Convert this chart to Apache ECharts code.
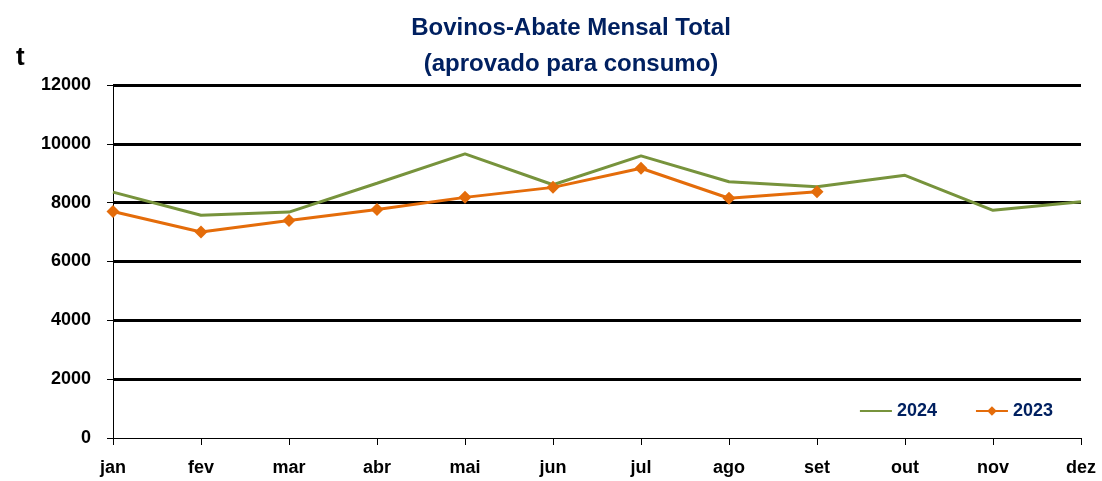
<!DOCTYPE html>
<html>
<head>
<meta charset="utf-8">
<script src="https://cdn.jsdelivr.net/npm/echarts@6/dist/echarts.min.js"></script>
<style>
  html, body { margin: 0; padding: 0; background: #fff; }
  #main { width: 1102px; height: 481px; }
</style>
</head>
<body>
<div id="main"></div>
<script>
// dados
var meses = ["jan", "fev", "mar", "abr", "mai", "jun", "jul", "ago", "set", "out", "nov", "dez"];
var valores2024 = [8360, 7570, 7680, 8660, 9660, 8610, 9590, 8710, 8540, 8930, 7740, 8030];
var valores2023 = [7700, 7000, 7390, 7770, 8180, 8520, 9170, 8150, 8370];

var fonte = "'Liberation Sans', Arial, sans-serif";
var azul = "#002060";

var myChart = echarts.init(document.getElementById("main"));
var option = {
  animation: false,
  title: [
    {
      text: "Bovinos-Abate Mensal Total\n(aprovado para consumo)",
      left: 566,
      textAlign: "center",
      top: 5,
      textStyle: {
        color: azul,
        fontFamily: fonte,
        fontWeight: "bold",
        fontSize: 24,
        lineHeight: 36,
      },
    },
    {
      text: "t",
      left: 11,
      top: 40,
      textStyle: {
        color: "#000",
        fontFamily: fonte,
        fontWeight: "bold",
        fontSize: 26,
      },
    },
  ],
  legend: {
    right: 44,
    top: 397,
    itemGap: 38,
    itemWidth: 32,
    itemHeight: 12,
    textStyle: {
      color: azul,
      fontFamily: fonte,
      fontWeight: "bold",
      fontSize: 18,
    },
    data: [
      { name: "2024", itemStyle: { opacity: 0 } },
      { name: "2023" },
    ],
  },
  grid: { left: 113, right: 21, top: 85, bottom: 43 },
  xAxis: {
    type: "category",
    data: meses,
    boundaryGap: false,
    axisLine: { lineStyle: { color: "#000", width: 1 } },
    axisTick: { show: true, length: 7, lineStyle: { color: "#000" } },
    axisLabel: {
      color: "#000",
      fontFamily: fonte,
      fontWeight: "bold",
      fontSize: 18,
      margin: 21,
    },
  },
  yAxis: {
    type: "value",
    min: 0,
    max: 12000,
    interval: 2000,
    axisLine: { show: true, lineStyle: { color: "#000", width: 1 } },
    axisTick: { show: true, length: 6, lineStyle: { color: "#000" } },
    axisLabel: {
      color: "#000",
      fontFamily: fonte,
      fontWeight: "bold",
      fontSize: 18,
      margin: 22,
      formatter: function (v) { return String(v); },
    },
    splitLine: { showMinLine: false, lineStyle: { color: "#000", width: 3 } },
  },
  series: [
    {
      name: "2024",
      type: "line",
      data: valores2024,
      symbol: "none",
      lineStyle: { color: "#77933C", width: 3 },
      itemStyle: { color: "#77933C" },
      z: 2,
    },
    {
      name: "2023",
      type: "line",
      data: valores2023,
      symbol: "diamond",
      symbolSize: 13,
      lineStyle: { color: "#E46C0A", width: 3 },
      itemStyle: { color: "#E46C0A" },
      z: 3,
    },
  ],
};
myChart.setOption(option);
</script>
</body>
</html>
